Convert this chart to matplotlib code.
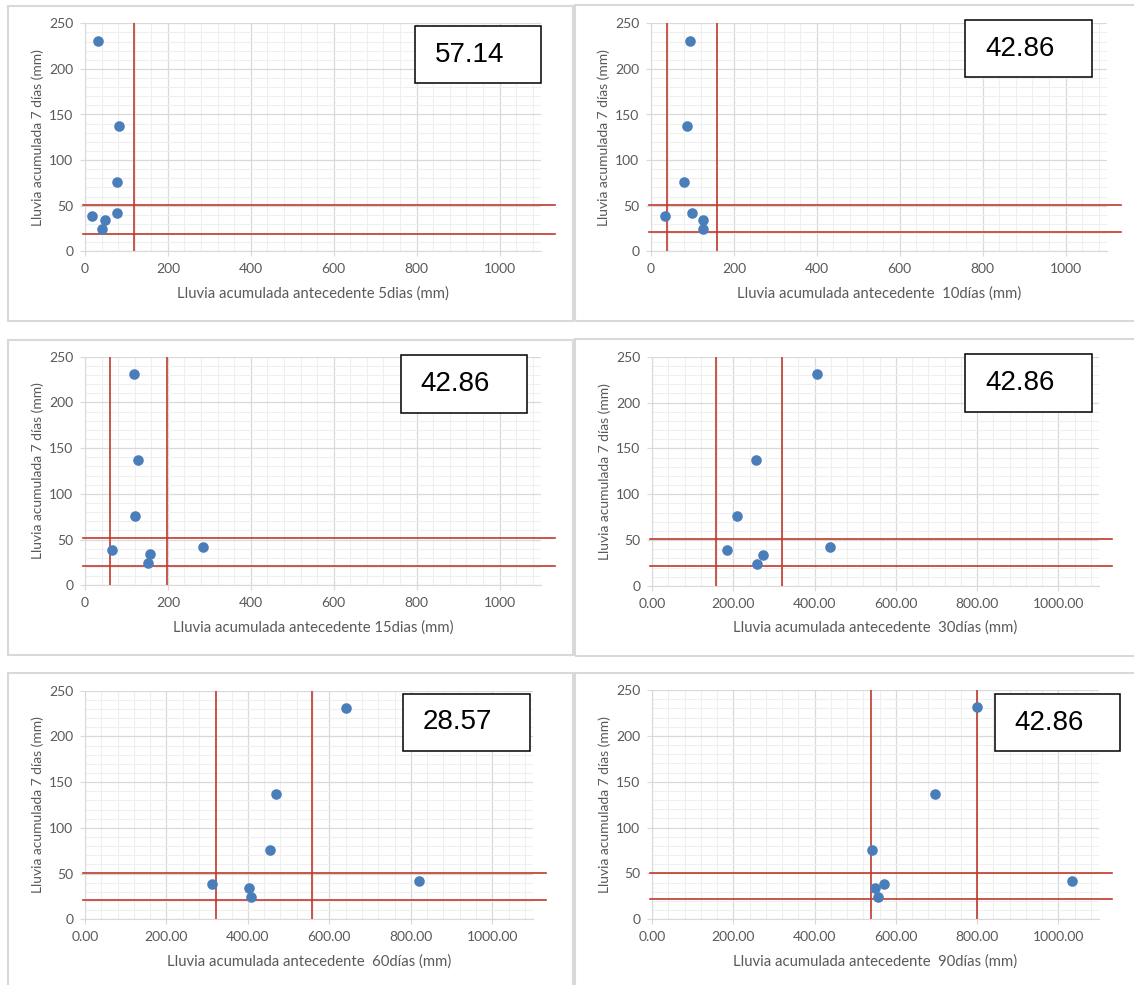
import matplotlib
matplotlib.use("Agg")
import matplotlib.pyplot as plt
from matplotlib.patches import Rectangle
from matplotlib.ticker import MultipleLocator, FormatStrFormatter

plt.rcParams["font.family"] = ["Lato", "DejaVu Sans"]

# lluvia acumulada 7 dias (mm), same events in every panel
lluvia_7d = [231, 137, 76, 42, 39, 34, 24]

# antecedent rainfall per window (mm)
ant_5d = [32, 83, 78, 76, 17, 49, 42]
ant_10d = [93, 88, 80, 100, 34, 125, 125]
ant_15d = [118, 127, 121, 285, 64, 156, 152]
ant_30d = [405, 255, 208, 439, 184, 273, 258]
ant_60d = [640, 469, 455, 820, 311, 403, 408]
ant_90d = [800, 696, 542, 1034, 570, 548, 557]

x_labels = [
    "Lluvia acumulada antecedente 5dias (mm)",
    "Lluvia acumulada antecedente  10días (mm)",
    "Lluvia acumulada antecedente 15dias (mm)",
    "Lluvia acumulada antecedente  30días (mm)",
    "Lluvia acumulada antecedente  60días (mm)",
    "Lluvia acumulada antecedente  90días (mm)",
]
y_label = "Lluvia acumulada 7 días (mm)"

# umbrales (red lines)
v_umbral = [[118], [38, 160], [60, 198], [158, 320], [321, 558], [538, 799]]
h_umbral = [[51, 19], [51, 21], [52, 21], [51, 22], [51, 21], [51, 22]]

porcentajes = ["57.14", "42.86", "42.86", "42.86", "28.57", "42.86"]
decimal_ticks = [False, False, False, True, True, True]

W, H = 1134, 985

# layout in pixels (left, top, right, bottom)
panel_px = [(7.5, 5.7, 573, 321), (574.5, 5, 1140, 321),
            (7.5, 340, 573, 655), (574.5, 339.3, 1140, 656),
            (7.5, 673, 573, 995), (574.5, 672.7, 1140, 995)]
axes_px = [(85, 23.3, 541, 251.3), (651, 23.3, 1107, 251.3),
           (85, 356.7, 541, 585.3), (652, 356.7, 1099, 586),
           (85, 690.7, 533, 919.3), (652, 690, 1099, 919.3)]
box_px = [(415, 26, 541, 83.3), (965, 20, 1091.6, 77.3),
          (400.7, 355.3, 527, 413), (965, 354.3, 1091.6, 412),
          (403, 693.7, 529.5, 751), (994.5, 694.3, 1119.6, 751)]


def rect(l, t, r, b):
    return [l / W, 1 - b / H, (r - l) / W, (b - t) / H]


fig = plt.figure(figsize=(W / 100, H / 100), dpi=100)

for l, t, r, b in panel_px:
    fig.patches.append(Rectangle((l / W, 1 - b / H), (r - l) / W, (b - t) / H,
                                 transform=fig.transFigure, fill=False,
                                 edgecolor="#d9d9d9", linewidth=1.5, zorder=0))

series = [ant_5d, ant_10d, ant_15d, ant_30d, ant_60d, ant_90d]
for i, xs in enumerate(series):
    l, t, r, b = axes_px[i]
    ax = fig.add_axes(rect(l, t, r, b))
    ax.set_xlim(0, 1100)
    ax.set_ylim(0, 250)
    ax.xaxis.set_major_locator(MultipleLocator(200))
    ax.xaxis.set_minor_locator(MultipleLocator(40))
    ax.yaxis.set_major_locator(MultipleLocator(50))
    ax.yaxis.set_minor_locator(MultipleLocator(10))
    if decimal_ticks[i]:
        ax.xaxis.set_major_formatter(FormatStrFormatter("%.2f"))
    ax.grid(which="major", color="#d9d9d9", linewidth=0.9)
    ax.grid(which="minor", color="#efefef", linewidth=0.8)
    ax.set_axisbelow(True)
    for s in ["top", "right"]:
        ax.spines[s].set_visible(False)
    for s in ["left", "bottom"]:
        ax.spines[s].set_color("#d9d9d9")
    ax.tick_params(which="major", length=3.5, color="#d9d9d9",
                   labelcolor="#595959", labelsize=10, pad=5)
    ax.tick_params(which="minor", length=0)

    for xv in v_umbral[i]:
        ax.axvline(xv, color="#c0392b", linewidth=1.2, zorder=3)
    for yv in h_umbral[i]:
        ax.plot([-0.005, 1.03], [yv, yv], transform=ax.get_yaxis_transform(),
                color="#c0392b", linewidth=1.2, clip_on=False, zorder=3)

    ax.scatter(xs, lluvia_7d, s=58, color="#4a7ebb", zorder=4, linewidths=0)

    ax.set_xlabel(x_labels[i], color="#595959", fontsize=10.7, va="center")
    ax.set_ylabel(y_label, color="#595959", fontsize=10, va="center")
    ax.xaxis.set_label_coords(0.5, -42 / (b - t))
    ax.yaxis.set_label_coords(-47 / (r - l), 0.5)

    bl, bt, br, bb = box_px[i]
    fig.patches.append(Rectangle((bl / W, 1 - bb / H), (br - bl) / W, (bb - bt) / H,
                                 transform=fig.transFigure, facecolor="white",
                                 edgecolor="black", linewidth=1.1, zorder=5))
    fig.text((bl + 20) / W, 1 - ((bt + bb) / 2) / H, porcentajes[i],
             family=["Liberation Sans", "DejaVu Sans"], fontsize=20,
             va="center", ha="left", zorder=6)

fig.savefig("out.png", dpi=100)
